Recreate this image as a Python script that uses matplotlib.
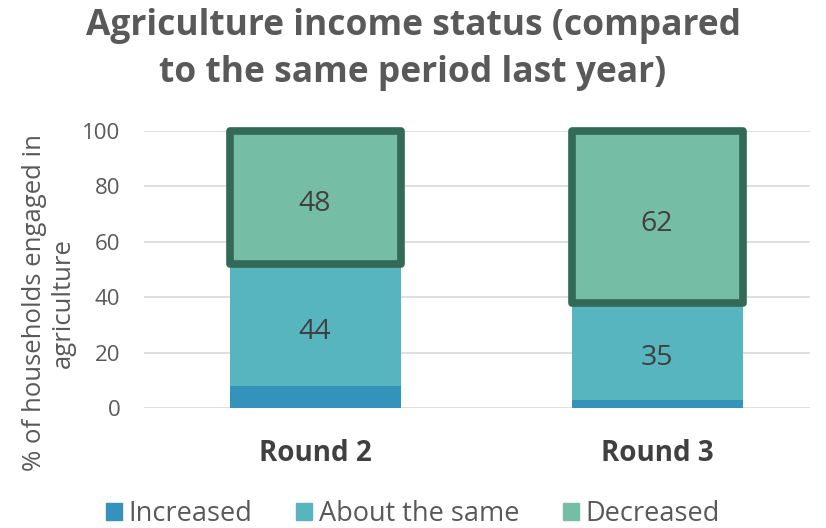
import matplotlib.pyplot as plt
from matplotlib.patches import Patch

plt.rcParams['font.family'] = ['Open Sans', 'DejaVu Sans']

rounds = ["Round 2", "Round 3"]
increased = [8, 3]
about_same = [44, 35]
decreased = [48, 62]
yticks = [0, 20, 40, 60, 80, 100]

c_inc = "#3393BA"
c_same = "#57B5C0"
c_dec = "#75BDA5"
c_edge = "#336957"
grey = "#595959"

fig = plt.figure(figsize=(8.26, 5.28), dpi=100)
# axes placed in pixel terms: left 144, right 810, bottom y=408, top y=131
W, H = 826, 528
ax = fig.add_axes([144 / W, (H - 408) / H, (810 - 144) / W, (408 - 131) / H])

x = list(range(len(rounds)))
bw = 0.5
ax.bar(x, increased, width=bw, color=c_inc, zorder=2)
ax.bar(x, about_same, width=bw, bottom=increased, color=c_same, zorder=2)
base = [a + b for a, b in zip(increased, about_same)]
ax.bar(x, decreased, width=bw, bottom=base, color=c_dec, zorder=3,
       edgecolor=c_edge, linewidth=5.5, joinstyle="round", clip_on=False)

for i in x:
    for val, mid in ((about_same[i], increased[i] + about_same[i] / 2),
                     (decreased[i], base[i] + decreased[i] / 2)):
        ax.annotate(str(val), (i, mid), xytext=(0, -5), textcoords="offset points",
                    ha="center", va="center", fontsize=20.5, color="#404040", zorder=4)

ax.set_xlim(-0.5, 1.447)
ax.set_ylim(0, 100)
ax.set_yticks(yticks)
ax.set_yticklabels([str(t) for t in yticks], fontsize=16, color=grey)
ax.set_xticks(x)
ax.set_xticklabels(rounds, fontsize=20, fontweight="bold", color="#404040")
ax.tick_params(axis="both", length=0)
ax.tick_params(axis="y", pad=17)
ax.tick_params(axis="x", pad=22)
ax.grid(axis="y", color="#D9D9D9", linewidth=1.2, zorder=0)
for s in ax.spines.values():
    s.set_visible(False)

ax.set_ylabel("% of households engaged in\nagriculture", fontsize=18.5,
              color=grey, linespacing=1.2)
ax.yaxis.set_label_coords(-0.103, 0.38)

fig.text(0.5, 1 - 8 / H, "Agriculture income status (compared\nto the same period last year)",
         ha="center", va="top", fontsize=25.5, fontweight="bold", color=grey,
         linespacing=1.4)

handles = [Patch(color=c_inc), Patch(color=c_same), Patch(color=c_dec)]
fig.legend(handles, ["Increased", "About the same", "Decreased"],
           loc="lower center", bbox_to_anchor=(0.5, -0.047), ncol=3, frameon=False,
           fontsize=19.5, handlelength=0.6, handleheight=0.6, handletextpad=0.25,
           columnspacing=1.6, labelcolor=grey)

fig.savefig("out.png", dpi=100)
